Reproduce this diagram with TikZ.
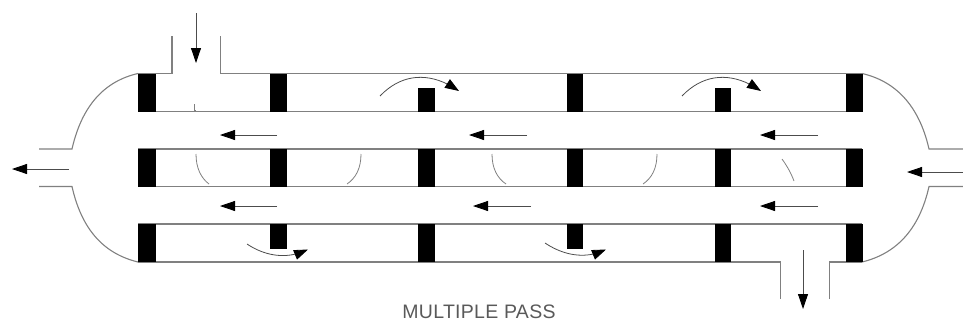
\documentclass[tikz,border=0pt]{standalone}
\usepackage{fontspec}
\setmainfont{Liberation Sans}[LetterSpace=1.5]
\usetikzlibrary{arrows.meta,bending}
\definecolor{wall}{gray}{0.5}
\definecolor{flowc}{gray}{0.3}
\tikzset{
  x=1pt,y=-1pt,
  wall line/.style={draw=wall,line width=1.1pt},
  thin arc/.style={draw=wall,line width=0.8pt},
  baffle/.style={fill=black,draw=none},
  flow/.style={draw=flowc,line width=0.8pt,-{Triangle[length=15pt,width=10pt,color=black]}},
  bent flow/.style={flow,-{Triangle[length=14pt,width=10pt,color=black,flex=0.6]}},
  label text/.style={text=black!65,font=\fontsize{19.5}{20}\selectfont,inner sep=0pt}
}
\begin{document}
\begin{tikzpicture}
\useasboundingbox (0,0) rectangle (963,322);
% shell walls
\draw[wall line] (172,36) -- (172,73.5) -- (138,73.5);
\draw[wall line] (220.5,36) -- (220.5,73.5) -- (862,73.5);
\foreach \y in {111.5,149,186.5,224}
  \draw[wall line] (138,\y) -- (862,\y);
\draw[wall line] (138,262) -- (780.5,262) -- (780.5,299);
\draw[wall line] (829.5,299) -- (829.5,262) -- (862,262);
% heads and side nozzles
\draw[wall line] (138,73.5) .. controls (105,81) and (82,105) .. (72,149) -- (39,149);
\draw[wall line] (138,262) .. controls (105,254) and (82,231) .. (72,186.5) -- (39,186.5);
\draw[wall line] (862,73.5) .. controls (895,81) and (919,105) .. (929,149) -- (963,149);
\draw[wall line] (862,262) .. controls (895,254) and (919,231) .. (929,186.5) -- (963,186.5);
% baffles
\foreach \xa/\xb in {138/155.5,270/287,418/434.5,566.5/583,714.5/731,845.5/862.5}
  \fill[baffle] (\xa,149) rectangle (\xb,186.5);
\foreach \xa/\xb in {138/155.5,270/287,566.5/583,845.5/862.5}
  \fill[baffle] (\xa,73.5) rectangle (\xb,111.5);
\foreach \xa/\xb in {418/434.5,714.5/731}
  \fill[baffle] (\xa,88) rectangle (\xb,111.5);
\foreach \xa/\xb in {138/155.5,418/434.5,714.5/731,845.5/862.5}
  \fill[baffle] (\xa,224) rectangle (\xb,262);
\foreach \xa/\xb in {270/287,566.5/583}
  \fill[baffle] (\xa,224) rectangle (\xb,248.5);
% straight flow arrows
\foreach \xa/\xb/\y in {277/220/135,527/469/135,818/760/135,277/220/206,531/473/206,818/760/206,69/12/169,963/907/172}
  \draw[flow] (\xa,\y) -- (\xb,\y);
\draw[flow] (196,13) -- (196,63);
\draw[flow] (803,250) -- (803,309);
% curved flow arrows
\draw[bent flow] (380,96) .. controls (403,72) and (432,72) .. (459,91);
\draw[bent flow] (682,96) .. controls (705,72) and (734,72) .. (761,91);
\draw[bent flow] (247,244) .. controls (265,256) and (287,260) .. (308,249.5);
\draw[bent flow] (545,243) .. controls (563,255) and (585,260) .. (606,249.5);
% small streamline arcs
\draw[thin arc] (194,104) -- (194,110.5) -- (195.5,110.5);
\draw[thin arc] (196,154) .. controls (196,168) and (201,178) .. (209,184);
\draw[thin arc] (361,154) .. controls (361,168) and (356,178) .. (347,184);
\draw[thin arc] (492,154) .. controls (492,168) and (497,178) .. (506,184);
\draw[thin arc] (657,154) .. controls (657,168) and (652,178) .. (643,184);
\draw[thin arc] (782,159) .. controls (787,166) and (791,173) .. (794,181);
% caption
\node[label text,anchor=base] (caption) at (479,318) {MULTIPLE PASS};
\end{tikzpicture}
\end{document}
